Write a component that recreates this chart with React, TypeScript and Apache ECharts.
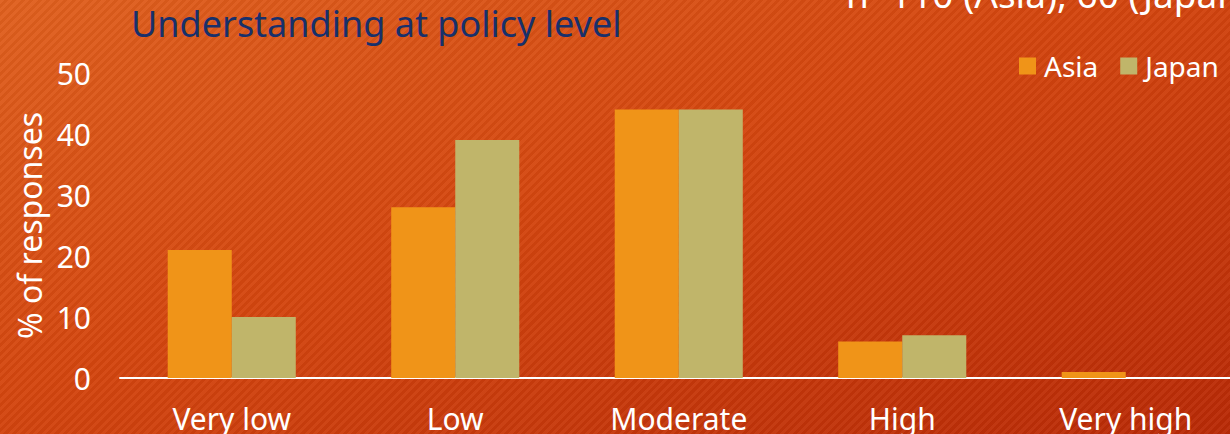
import React, { useEffect, useRef } from "react";
import * as echarts from "echarts";

const categories = ["Very low", "Low", "Moderate", "High", "Very high"];
const asiaValues = [21, 28, 44, 6, 1];
const japanValues = [10, 39, 44, 7, 0];
const yTicks = [0, 10, 20, 30, 40, 50];

const FONT = "'Noto Sans', sans-serif";

export default function App() {
  const ref = useRef<HTMLDivElement>(null);

  useEffect(() => {
    document.body.style.margin = "0";
    const chart = echarts.init(ref.current!, null, { renderer: "svg" });
    chart.setOption({
      animation: false,
      backgroundColor: "transparent",
      textStyle: { fontFamily: FONT },
      title: {
        text: "Understanding at policy level",
        left: 126,
        top: 0,
        textStyle: { color: "#17306b", fontSize: 36, fontWeight: "normal", fontFamily: FONT },
      },
      graphic: [
        {
          type: "text",
          left: 846,
          top: -25,
          style: {
            text: "n=110 (Asia), 60 (Japan)",
            fill: "#ffffff",
            font: `37px ${FONT}`,
          },
        },
      ],
      legend: {
        left: 1014,
        top: 47,
        itemWidth: 17,
        itemHeight: 17,
        itemGap: 22,
        icon: "rect",
        data: ["Asia", "Japan"],
        textStyle: { color: "#ffffff", fontSize: 28, fontFamily: FONT, padding: [0, 0, 0, 3] },
      },
      grid: {
        left: 120,
        top: 73,
        width: 1117.5,
        height: 305,
        containLabel: false,
        outerBoundsMode: "none",
      },
      xAxis: {
        type: "category",
        data: categories,
        axisLine: { lineStyle: { color: "#ffffff", width: 2 } },
        axisTick: { show: false },
        axisLabel: { color: "#ffffff", fontSize: 30, margin: 25, fontFamily: FONT },
      },
      yAxis: {
        type: "value",
        min: yTicks[0],
        max: yTicks[yTicks.length - 1],
        interval: 10,
        name: "% of responses",
        nameLocation: "middle",
        nameGap: 75,
        nameRotate: 90,
        nameTextStyle: { color: "#ffffff", fontSize: 32, fontFamily: FONT },
        axisLine: { show: false },
        axisTick: { show: false },
        splitLine: { show: false },
        axisLabel: { color: "#ffffff", fontSize: 30, margin: 29, fontFamily: FONT },
      },
      series: [
        {
          name: "Asia",
          type: "bar",
          data: asiaValues,
          barGap: "0%",
          barCategoryGap: "42.7%",
          itemStyle: { color: "#f09418" },
        },
        {
          name: "Japan",
          type: "bar",
          data: japanValues,
          itemStyle: { color: "#c0b56a" },
        },
      ],
    });
    return () => chart.dispose();
  }, []);

  return (
    <div
      style={{
        width: 1230,
        height: 434,
        overflow: "hidden",
        background:
          "repeating-linear-gradient(135deg, rgba(255,255,255,0.04) 0px, rgba(255,255,255,0.04) 3px, rgba(0,0,0,0.035) 3px, rgba(0,0,0,0.035) 6px), linear-gradient(160deg, #e0601e 0%, #d4460f 45%, #b92a06 100%)",
      }}
    >
      <div ref={ref} style={{ width: 1230, height: 434 }} />
    </div>
  );
}
